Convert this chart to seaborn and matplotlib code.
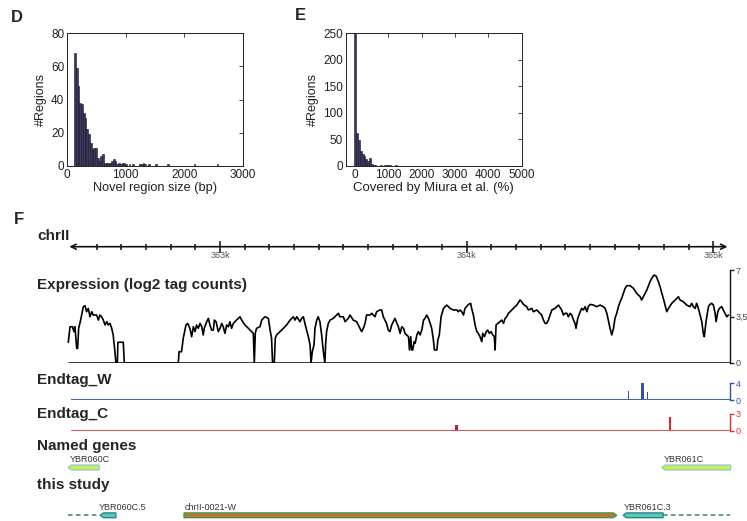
import numpy as np
import pandas as pd
import matplotlib
matplotlib.use('Agg')
import matplotlib.pyplot as plt
from matplotlib.patches import Polygon
import seaborn as sns

# ---------------- data ----------------
# Panel D: novel region size histogram (bin left edge, count)
D_bin_left = [120, 150, 180, 210, 240, 270, 300, 330, 360, 390, 420, 450, 480, 510, 540,
              570, 600, 630, 660, 690, 720, 750, 780, 810, 840, 870, 900, 930, 960, 990,
              1050, 1110, 1230, 1260, 1290, 1320, 1380, 1500, 1710, 2160, 2550]
D_counts = [68, 59, 48, 38, 37, 32, 29, 22, 19, 14, 10, 11, 11, 5, 3,
            6, 7, 2, 2, 2, 2, 3, 4, 3, 1, 2, 1, 2, 2, 1,
            1, 1, 1, 1, 2, 1, 1, 1, 1, 1, 1]
D_xticks = [0, 1000, 2000, 3000]
D_yticks = [0, 20, 40, 60, 80]

# Panel E: coverage by Miura et al. histogram
E_bin_left = [-20, 35, 90, 145, 200, 255, 310, 365, 420, 475, 530, 585, 750, 860, 915, 970, 1025, 1190]
E_counts = [250, 62, 49, 28, 23, 19, 14, 10, 15, 4, 2, 1, 1, 2, 2, 1, 1, 1]
E_xticks = [0, 1000, 2000, 3000, 4000, 5000]
E_yticks = [0, 50, 100, 150, 200, 250]

# Panel F: expression track (genomic position, log2 tag counts)
expr_pos = [362385, 362392, 362402, 362408, 362412, 362419, 362423, 362427, 362435, 362446,
            362453, 362459, 362466, 362473, 362480, 362486, 362500, 362507, 362513, 362520,
            362527, 362534, 362541, 362547, 362554, 362561, 362567, 362574, 362578, 362584,
            362586, 362608, 362612, 362831, 362834, 362844, 362851, 362862, 362869, 362878,
            362885, 362892, 362899, 362905, 362912, 362919, 362926, 362932, 362936, 362946,
            362953, 362959, 362966, 362973, 362977, 362984, 362993, 363000, 363007, 363013,
            363020, 363027, 363034, 363040, 363047, 363054, 363067, 363081, 363088, 363101,
            363115, 363128, 363135, 363139, 363143, 363148, 363162, 363169, 363182, 363196,
            363203, 363209, 363213, 363220, 363224, 363229, 363243, 363257, 363270, 363284,
            363297, 363304, 363311, 363324, 363331, 363338, 363344, 363351, 363358, 363365,
            363369, 363374, 363381, 363385, 363392, 363398, 363405, 363412, 363419, 363425,
            363428, 363432, 363439, 363446, 363459, 363473, 363480, 363486, 363500, 363507,
            363520, 363527, 363540, 363554, 363567, 363574, 363581, 363588, 363594, 363608,
            363615, 363628, 363635, 363648, 363655, 363662, 363675, 363682, 363689, 363696,
            363709, 363723,
            363730, 363737, 363744, 363750, 363757, 363764, 363768, 363773, 363777, 363781,
            363787, 363791, 363798, 363804, 363811, 363818, 363825, 363831, 363838, 363845,
            363852, 363858, 363865, 363869, 363879, 363883, 363889, 363896, 363906, 363919,
            363926, 363933, 363946, 363960, 363966, 363973, 363980, 363987, 363993, 364007,
            364016, 364020, 364027, 364034, 364041, 364047, 364054, 364061, 364065, 364072,
            364079, 364085, 364092, 364099, 364106, 364112, 364115, 364119, 364126, 364135,
            364142, 364149, 364156, 364162, 364169, 364176, 364189, 364203, 364216, 364223,
            364230, 364243, 364250, 364264, 364270, 364284, 364297, 364304, 364311, 364318,
            364324, 364331, 364338, 364345, 364358, 364372, 364385, 364392, 364399, 364406,
            364412, 364419, 364426, 364433, 364439, 364443, 364450, 364460, 364466, 364473,
            364480, 364487, 364493, 364500, 364514, 364527, 364541, 364554, 364561, 364568,
            364574, 364581, 364588, 364595, 364601, 364608, 364615, 364622, 364628, 364635,
            364642, 364649, 364662, 364676, 364689, 364696, 364703, 364709, 364716, 364723,
            364730, 364737, 364743, 364750, 364759, 364768, 364777, 364784, 364791, 364797,
            364804, 364811, 364818, 364831, 364845, 364858, 364865, 364878, 364885, 364892,
            364905, 364912, 364919, 364926, 364932, 364939, 364946, 364953, 364959, 364963,
            364970, 364980, 364986, 364993, 365000, 365007, 365011, 365018, 365024, 365034,
            365040, 365047, 365054, 365061]
expr_val = [1.56, 2.73, 2.73, 2.36, 2.73, 1.10, 1.10, 2.61, 3.23, 4.24,
            4.31, 3.86, 4.11, 3.48, 3.86, 3.61, 3.61, 3.23, 3.61, 3.48,
            3.23, 2.86, 3.11, 2.86, 2.98, 2.61, 2.11, 0.85, 0.0, 0.0,
            1.56, 1.56, 0.0, 0.0, 0.85, 0.85, 1.86, 2.86, 2.98, 2.61,
            1.98, 2.73, 2.36, 2.86, 2.61, 2.98, 2.73, 2.11, 2.61, 3.11,
            3.36, 2.86, 2.48, 2.48, 3.23, 3.11, 2.36, 2.61, 2.98, 2.73,
            2.23, 2.86, 2.73, 3.11, 2.61, 2.98, 3.23, 3.48, 3.23, 2.86,
            2.61, 2.36, 2.23, 0.0, 2.23, 2.61, 2.73, 3.23, 3.48, 3.36,
            2.48, 1.86, 0.0, 0.0, 1.86, 2.11, 2.36, 2.61, 2.86, 3.23,
            3.48, 3.23, 3.48, 3.11, 3.36, 3.48, 2.98, 2.48, 1.98, 1.36,
            0.0, 0.85, 1.36, 2.61, 3.23, 3.48, 3.11, 2.11, 0.85, 0.0,
            1.36, 2.36, 2.98, 3.23, 3.36, 3.61, 3.74, 3.48, 3.48, 3.11,
            3.36, 3.61, 3.23, 3.11, 2.61, 2.36, 2.61, 2.98, 3.61, 3.61,
            3.74, 3.48, 3.86, 3.99, 3.99, 3.48, 2.98, 2.48, 2.36, 2.86,
            3.36, 2.73,
            2.23, 2.73, 2.61, 2.23, 2.11, 1.98, 0.98, 1.98, 0.98, 0.98,
            1.61, 1.48, 2.11, 2.36, 2.11, 2.48, 3.23, 3.36, 3.61, 3.36,
            2.98, 2.61, 1.73, 0.98, 0.98, 1.73, 2.11, 3.48, 4.11, 4.36,
            4.24, 4.11, 3.99, 3.99, 3.86, 3.99, 3.86, 3.61, 4.11, 4.41,
            4.49, 4.11, 3.61, 2.86, 2.36, 2.23, 1.98, 1.61, 2.23, 1.98,
            2.36, 2.48, 2.23, 2.36, 2.11, 1.98, 0.98, 2.86, 2.98, 3.11,
            3.23, 2.98, 3.36, 3.48, 3.74, 3.86, 4.11, 4.36, 4.74, 4.61,
            4.41, 4.24, 3.99, 4.11, 3.86, 3.99, 3.74, 3.61, 3.23, 2.98,
            2.98, 3.23, 3.61, 3.99, 4.11, 4.36, 3.99, 3.61, 3.74, 3.74,
            3.48, 3.74, 3.61, 3.23, 2.98, 2.61, 3.36, 3.86, 4.11, 3.99,
            4.24, 3.86, 4.24, 4.41, 4.36, 4.24, 4.36, 4.24, 4.11, 3.74,
            3.23, 2.61, 2.11, 2.61, 3.36, 3.74, 4.24, 4.61, 4.86, 5.24,
            5.62, 5.82, 5.82, 5.62, 5.24, 5.11, 4.99, 4.74, 4.99, 5.24,
            5.49, 5.82, 6.12, 6.37, 6.62, 6.54, 6.12, 5.74, 5.24, 4.86,
            4.36, 3.86, 4.11, 4.49, 4.74, 4.99, 4.74, 4.61, 4.49, 4.36,
            4.24, 4.49, 4.24, 4.11, 4.49, 4.11, 3.61, 3.11, 2.23, 1.98,
            3.11, 4.24, 4.41, 4.49, 4.36, 3.74, 3.11, 3.86, 4.11, 4.24,
            3.99, 3.74, 3.48, 3.61]
expr_ticks = [0, 3.5, 7]
expr_ticklabels = ['0', '3,5', '7']

# End tags
endW_pos = [364655, 364712, 364732]
endW_val = [2.2, 4.0, 2.0]
endC_pos = [363959, 364824]
endC_val = [1.0, 2.4]

# Ruler
ruler_major = [363000, 364000, 365000]
ruler_major_labels = ['363k', '364k', '365k']

# Genes
named_names = ['YBR060C', 'YBR061C']
named_start = [362384, 364790]
named_end = [362510, 365070]
named_strand = ['-', '-']

study_names = ['YBR060C.5', 'chrII-0021-W', 'YBR061C.3']
study_start = [362514, 362854, 364634]
study_end = [362578, 364608, 364796]
study_strand = ['-', '+', '-']
study_dash_start = [362384, 364796]
study_dash_end = [362514, 365067]

# ---------------- style / layout ----------------
sns.set_theme(style='white')
plt.rcParams['font.family'] = ['Liberation Sans', 'DejaVu Sans']

W, H = 747, 521
fig = plt.figure(figsize=(W / 100, H / 100), dpi=100)


def axpx(l, t, r, b):
    return fig.add_axes([l / W, 1 - b / H, (r - l) / W, (b - t) / H])


def ftxt(x, y, s, **kw):
    fig.text(x / W, 1 - y / H, s, va='center', ha='left', **kw)


BAR_FC = '#3b3a5e'
BAR_EC = '#15152a'
TRACK_FS = 11


def style_hist(ax):
    for sp in ax.spines.values():
        sp.set_visible(True)
        sp.set_linewidth(0.7)
        sp.set_color('#222222')
    ax.tick_params(direction='in', top=True, right=True, length=3, width=0.6,
                   labelsize=8.5, colors='#222222', pad=2)
    ax.tick_params(axis='both', which='both', labeltop=False, labelright=False)


def hist_panel(ax, left, counts, width):
    df = pd.DataFrame({'center': np.array(left, dtype=float) + width / 2,
                       'count': np.array(counts, dtype=float)})
    edges = list(np.arange(left[0], left[-1] + 2 * width, width))
    sns.histplot(data=df, x='center', weights='count', bins=edges, ax=ax,
                 color=BAR_FC, edgecolor=BAR_EC, linewidth=0.4, alpha=1)


# Panel D
axD = axpx(67, 33, 243, 166)
hist_panel(axD, D_bin_left, D_counts, 30)
axD.set_xlim(0, 3000)
axD.set_ylim(0, 80)
axD.set_xticks(D_xticks)
axD.set_yticks(D_yticks)
axD.set_xlabel('Novel region size (bp)', fontsize=9.2, labelpad=1, color='#222222')
axD.set_ylabel('#Regions', fontsize=9, labelpad=3, color='#222222')
style_hist(axD)

# Panel E
axE = axpx(346, 33, 521.7, 166)
hist_panel(axE, E_bin_left, E_counts, 55)
axE.set_xlim(-270, 5000)
axE.set_ylim(0, 250)
axE.set_xticks(E_xticks)
axE.set_yticks(E_yticks)
axE.set_xlabel('Covered by Miura et al. (%)', fontsize=9.5, labelpad=1, color='#222222')
axE.set_ylabel('#Regions', fontsize=9, labelpad=3, color='#222222')
style_hist(axE)

# Panel labels
ftxt(11, 17, 'D', fontsize=12, fontweight='bold')
ftxt(295, 15, 'E', fontsize=12, fontweight='bold')
ftxt(14, 220, 'F', fontsize=12, fontweight='bold')

# Genome browser shared x range (pixel 60..740)
XL, XR = 362351.4, 365107.8
SCALE_X = 365067


def clean(ax):
    for sp in ax.spines.values():
        sp.set_visible(False)
    ax.set_xlim(XL, XR)
    ax.set_xticks([])
    ax.set_yticks([])
    ax.patch.set_alpha(0)


# Ruler
axR = axpx(60, 236.7, 740, 246.7)
clean(axR)
axR.set_ylim(0, 1)
axR.annotate('', xy=(365057, 0), xytext=(362389, 0), xycoords=('data', 'axes fraction'),
             arrowprops=dict(arrowstyle='<->', lw=1.2, color='#111111', shrinkA=0, shrinkB=0,
                             mutation_scale=9), annotation_clip=False)
axR.set_xticks(ruler_major)
axR.set_xticklabels(ruler_major_labels)
axR.set_xticks([v for v in range(362500, 365000, 100) if v not in ruler_major], minor=True)
axR.tick_params(axis='x', which='major', direction='inout', length=8, width=1.1,
                color='#111111', labelsize=6.5, labelcolor='#555555', pad=-1, bottom=True)
axR.tick_params(axis='x', which='minor', direction='inout', length=4, width=1.1,
                color='#111111', bottom=True)
ftxt(37, 236, 'chrII', fontsize=TRACK_FS, fontweight='bold')

# Expression
axX = axpx(60, 270, 740, 363)
clean(axX)
axX.set_ylim(0, 7)
sns.lineplot(x=expr_pos, y=expr_val, ax=axX, color='black', lw=1.2, estimator=None,
             sort=False)
axX.hlines(0, 362385, SCALE_X, color='black', lw=1.8)
axX.spines['right'].set_visible(True)
axX.spines['right'].set_position(('data', SCALE_X))
axX.spines['right'].set_color('#111111')
axX.spines['right'].set_linewidth(1.0)
axX.yaxis.tick_right()
axX.set_yticks(expr_ticks)
axX.set_yticklabels(expr_ticklabels)
axX.tick_params(axis='y', direction='out', length=3, width=1, labelsize=6.5,
                labelcolor='#444444', pad=1, right=True)
axX.set_xlabel('')
axX.set_ylabel('')
ftxt(37, 285, 'Expression (log2 tag counts)', fontsize=TRACK_FS, fontweight='bold')


def endtag_track(top, bottom, ymax, pos, val, widths, colors, base_color, tick_color, label, label_y):
    ax = axpx(60, top, 740, bottom)
    clean(ax)
    ax.set_ylim(0, ymax)
    ax.hlines(0, 362396, SCALE_X, color=base_color, lw=1.5)
    ax.bar(pos, val, width=widths, color=colors, align='center', linewidth=0)
    ax.spines['right'].set_visible(True)
    ax.spines['right'].set_position(('data', SCALE_X))
    ax.spines['right'].set_color(tick_color)
    ax.spines['right'].set_linewidth(1.0)
    ax.yaxis.tick_right()
    ax.set_yticks([0, ymax])
    ax.set_yticklabels(['0', str(ymax)])
    ax.tick_params(axis='y', direction='out', length=3, width=1, labelsize=6.5,
                   colors=tick_color, pad=1, right=True)
    ftxt(37, label_y, label, fontsize=TRACK_FS, fontweight='bold')
    return ax


endtag_track(383.3, 400, 4, endW_pos, endW_val, [4, 10, 6],
             ['#3552a8', '#3552a8', '#3552a8'], '#4068a8', '#3552a8', 'Endtag_W', 380)
endtag_track(413.8, 430.5, 3, endC_pos, endC_val, [10, 8],
             ['#b01f35', '#e8202c'], '#dd5560', '#e03030', 'Endtag_C', 414)

# Genes
axG = axpx(60, 440, 740, 521)
clean(axG)
axG.set_ylim(521, 440)


def gene_arrow(ax, start, end, y, h, strand, fc, ec, head=14):
    if strand == '-':
        pts = [(start, y), (start + head, y - h / 2), (end, y - h / 2), (end, y + h / 2),
               (start + head, y + h / 2)]
    else:
        pts = [(end, y), (end - head, y - h / 2), (start, y - h / 2), (start, y + h / 2),
               (end - head, y + h / 2)]
    ax.add_patch(Polygon(pts, closed=True, fc=fc, ec=ec, lw=1.0))


Y_NAMED, Y_STUDY = 467.5, 515.3
for n, s, e, st in zip(named_names, named_start, named_end, named_strand):
    gene_arrow(axG, s, e, Y_NAMED, 4.8, st, '#d6ea55', '#86d4c8')
    axG.text(s + 8, Y_NAMED - 8, n, fontsize=6.5, color='#333333', va='center', ha='left')

for s, e in zip(study_dash_start, study_dash_end):
    axG.plot([s, e], [Y_STUDY, Y_STUDY], color='#2e8b57', lw=1.1, dashes=(3, 2.2))

study_fc = ['#5cc6be', '#c8702e', '#5cc6be']
study_ec = ['#2a8a7e', '#3a9e52', '#2a8a7e']
for n, s, e, st, fc, ec in zip(study_names, study_start, study_end, study_strand,
                               study_fc, study_ec):
    gene_arrow(axG, s, e, Y_STUDY, 4.8, st, fc, ec)
    axG.text(s - 6 if n.startswith('YBR060') else s + 2, Y_STUDY - 7.5, n, fontsize=6.5,
             color='#333333', va='center', ha='left')

ftxt(37, 446, 'Named genes', fontsize=TRACK_FS, fontweight='bold')
ftxt(37, 485, 'this study', fontsize=TRACK_FS, fontweight='bold')

fig.savefig('out.png', dpi=100)
